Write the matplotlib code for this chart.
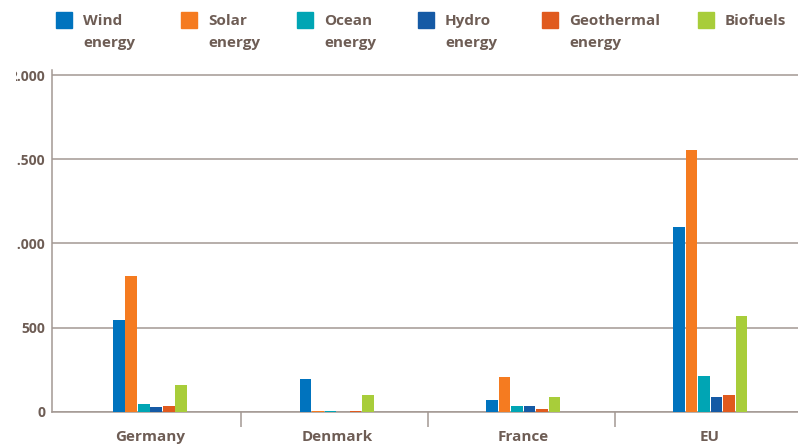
import matplotlib
matplotlib.use("Agg")
import matplotlib.pyplot as plt
import numpy as np
from matplotlib.patches import Rectangle
from matplotlib.transforms import Bbox, TransformedBbox, IdentityTransform

plt.rcParams['font.family'] = ['Open Sans', 'DejaVu Sans']
plt.rcParams['font.weight'] = 'bold'

countries = ["Germany", "Denmark", "France", "EU"]
series_names = ["Wind\nenergy", "Solar\nenergy", "Ocean\nenergy", "Hydro\nenergy",
                "Geothermal\nenergy", "Biofuels"]
wind = [545, 194, 70, 1097]
solar = [806, 4, 208, 1554]
ocean = [46, 3, 34, 212]
hydro = [28, 0, 34, 87]
geothermal = [34, 4, 16, 99]
biofuels = [158, 99, 87, 568]
yticks = [0, 500, 1000, 1500, 2000]
ytick_labels = ["0", "500", "1.000", "1.500", "2.000"]

series = [wind, solar, ocean, hydro, geothermal, biofuels]
colors = ["#0073be", "#f57b20", "#00a5b4", "#155aa5", "#e05a1e", "#a8cd3a"]
text_color = "#6e5d55"
grid_color = "#a39893"

W, H = 798, 446
fig = plt.figure(figsize=(W / 100, H / 100), dpi=100)

x_left_px = 52
zero_px = 411.7
px_per_unit_y = 0.1683
ymax = 2030
ax_h_px = ymax * px_per_unit_y
ax = fig.add_axes([x_left_px / W, (H - zero_px) / H, (W - x_left_px) / W, ax_h_px / H])
ax.set_xlim(-0.525, 3.471)
ax.set_ylim(0, ymax)

x = np.arange(len(countries))
step = 0.067
bw = 0.062
for i, (vals, c) in enumerate(zip(series, colors)):
    ax.bar(x + (i - 2.5) * step, vals, width=bw, color=c, zorder=3, linewidth=0)

ax.set_yticks(yticks)
ax.set_yticklabels(ytick_labels)
ax.yaxis.grid(True, color=grid_color, linewidth=1.1, zorder=1)
ax.tick_params(axis='y', length=0, pad=5, labelsize=10, labelcolor=text_color)
for lab in ax.get_yticklabels():
    lab.set_fontweight('bold')

ax.set_xticks(x)
ax.set_xticklabels(countries)
ax.set_xticks([0.49, 1.49, 2.49], minor=True)
ax.tick_params(axis='x', which='major', length=0, pad=13, labelsize=11, labelcolor=text_color)
ax.tick_params(axis='x', which='minor', length=10.5, width=1.1, color=grid_color)
for lab in ax.get_xticklabels():
    lab.set_fontweight('bold')

for s in ['top', 'right']:
    ax.spines[s].set_visible(False)
for s in ['left', 'bottom']:
    ax.spines[s].set_color(grid_color)
    ax.spines[s].set_linewidth(1.1)

sq_x = [56, 181, 297, 418, 542, 698]
for sx, name, c in zip(sq_x, series_names, colors):
    fig.patches.append(Rectangle((sx / W, 1 - 28 / H), 16 / W, 16 / H,
                                 transform=fig.transFigure, color=c, figure=fig))
    fig.text((sx + 27) / W, 1 - 14 / H, name, ha='left', va='top', fontsize=11,
             fontweight='bold', color=text_color, linespacing=1.75)

fig.canvas.draw()
clip = TransformedBbox(Bbox([[16, 0], [W, H]]), IdentityTransform())
for lab in ax.get_yticklabels():
    lab.set_clip_on(True)
    lab.set_clip_box(clip)

fig.savefig("out.png", dpi=100)
